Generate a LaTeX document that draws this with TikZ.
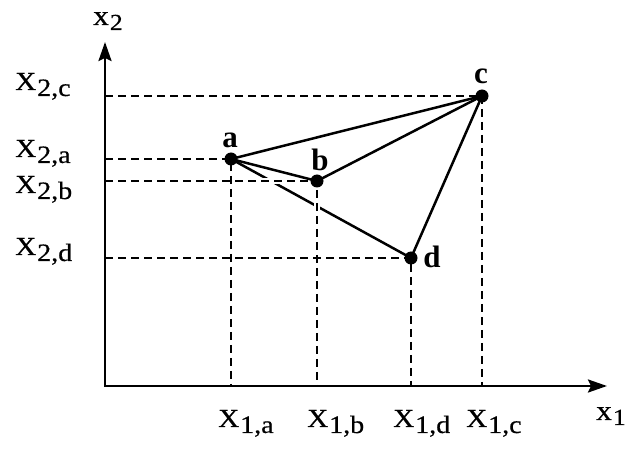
\documentclass[tikz,border=0pt]{standalone}
\usepackage{fontspec}
\setmainfont{Liberation Serif}
\newfontfamily\labfont[FakeStretch=1.12,FakeBold=0.6]{Liberation Serif}
\usetikzlibrary{arrows.meta}
\tikzset{
  axisline/.style={line width=2.5pt, line join=miter,
    {Stealth[length=19pt,width=13pt,inset=3pt]}-{Stealth[length=19pt,width=13pt,inset=3pt]}},
  guide/.style={line width=2.1pt, dash pattern=on 8pt off 5pt},
  gapline/.style={line width=6pt, white},
  edge/.style={line width=2.5pt, line cap=round},
  dot/.style={circle, fill=black, inner sep=0pt, minimum size=13pt},
  ptlab/.style={font=\fontsize{31}{31}\selectfont\bfseries, inner sep=0pt},
  axlab/.style={inner sep=0pt, anchor=base west, font=\labfont\fontsize{26}{26}\selectfont},
  varlab/.style={inner sep=0pt, anchor=base west, font=\labfont\fontsize{28}{28}\selectfont},
}
\newcommand\sublab[2]{#1\kern1pt\raisebox{-6pt}{\fontsize{25}{25}\selectfont #2}}
\newcommand\varsub[2]{#1\kern1pt\raisebox{-5pt}{\fontsize{23}{23}\selectfont #2}}
\begin{document}
\begin{tikzpicture}[x=1pt,y=-1pt]
\useasboundingbox (0,0) rectangle (625,449);
% points
\coordinate (a) at (231,159);
\coordinate (b) at (317,181);
\coordinate (c) at (482,96);
\coordinate (d) at (411,258);
% axes points
\coordinate (O) at (105,386);
\coordinate (ytip) at (105,42);
\coordinate (xtip) at (607,386);
\coordinate (ya) at (105,159);
\coordinate (yb) at (105,181);
\coordinate (yc) at (105,96);
\coordinate (yd) at (105,258);
\coordinate (xa) at (231,386);
\coordinate (xb) at (317,386);
\coordinate (xc) at (482,386);
\coordinate (xd) at (411,386);
% edge a-d (broken by the guides of b)
\draw[edge] (a) -- (d);
\draw[gapline] (yb) -- (b) -- (xb);
% guides
\draw[guide] (ya) -- (a) -- (xa);
\draw[guide] (yb) -- (b) -- (xb);
\draw[guide] (yc) -- (c) -- (xc);
\draw[guide] (yd) -- (d) -- (xd);
% other edges
\draw[edge] (a) -- (b);
\draw[edge] (a) -- (c);
\draw[edge] (b) -- (c);
\draw[edge] (c) -- (d);
% axes
\draw[axisline] (ytip) -- (O) -- (xtip);
% dots
\node[dot] (adot) at (a) {};
\node[dot] (bdot) at (b) {};
\node[dot] (cdot) at (c) {};
\node[dot] (ddot) at (d) {};
% point labels
\node[ptlab] (la) at (230,140) {a};
\node[ptlab] (lb) at (320,160) {b};
\node[ptlab] (lc) at (481,76) {c};
\node[ptlab] (ld) at (432,257) {d};
% axis variable labels
\node[varlab] (lx2) at (93,25) {\varsub{x}{2}};
\node[varlab] (lx1) at (596,420) {\varsub{x}{1}};
% tick labels
\node[axlab] (l2c) at (15,90) {\sublab{X}{2,c}};
\node[axlab] (l2a) at (15,157) {\sublab{X}{2,a}};
\node[axlab] (l2b) at (15,193) {\sublab{X}{2,b}};
\node[axlab] (l2d) at (15,255) {\sublab{X}{2,d}};
\node[axlab] (l1a) at (218,427) {\sublab{X}{1,a}};
\node[axlab] (l1b) at (307,427) {\sublab{X}{1,b}};
\node[axlab] (l1d) at (393,427) {\sublab{X}{1,d}};
\node[axlab] (l1c) at (466,427) {\sublab{X}{1,c}};
\end{tikzpicture}
\end{document}
